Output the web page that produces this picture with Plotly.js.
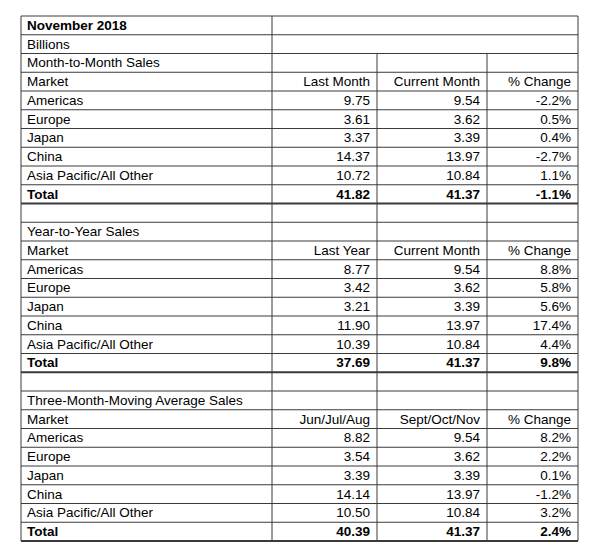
<!DOCTYPE html>
<html>
<head>
<meta charset="utf-8">
<script src="https://cdn.plot.ly/plotly-3.0.1.min.js"></script>
<style>
  html, body { margin: 0; padding: 0; background: #fff; }
  #chart { width: 600px; height: 559px; }
</style>
</head>
<body>
<div id="chart"></div>
<script>
// table data
const title = "November 2018";
const unit = "Billions";
const markets = ["Americas", "Europe", "Japan", "China", "Asia Pacific/All Other"];

const sectionNames = ["Month-to-Month Sales", "Year-to-Year Sales", "Three-Month-Moving Average Sales"];
const sectionHeaders = [
    ["Last Month", "Current Month", "% Change"],
    ["Last Year", "Current Month", "% Change"],
    ["Jun/Jul/Aug", "Sept/Oct/Nov", "% Change"]
];

const momPrev = [9.75, 3.61, 3.37, 14.37, 10.72];
const momCur = [9.54, 3.62, 3.39, 13.97, 10.84];
const momPct = [-2.2, 0.5, 0.4, -2.7, 1.1];
const momTotal = [41.82, 41.37, -1.1];

const yoyPrev = [8.77, 3.42, 3.21, 11.90, 10.39];
const yoyCur = [9.54, 3.62, 3.39, 13.97, 10.84];
const yoyPct = [8.8, 5.8, 5.6, 17.4, 4.4];
const yoyTotal = [37.69, 41.37, 9.8];

const tmaPrev = [8.82, 3.54, 3.39, 14.14, 10.50];
const tmaCur = [9.54, 3.62, 3.39, 13.97, 10.84];
const tmaPct = [8.2, 2.2, 0.1, -1.2, 3.2];
const tmaTotal = [40.39, 41.37, 2.4];

const sections = [
    [momPrev, momCur, momPct, momTotal],
    [yoyPrev, yoyCur, yoyPct, yoyTotal],
    [tmaPrev, tmaCur, tmaPct, tmaTotal]
];

// layout constants (pixels / row units)
const colEdges = [21, 272, 377, 487, 578];
const topPx = 16, rowPx = 18.75, H = 559;
const lineColor = "#3a3a3a";

// build the rows
let rows = [];
rows.push({ cells: ["<b>" + title + "</b>"], merged: true });
rows.push({ cells: [unit], merged: true });
sections.forEach((s, si) => {
    if (si > 0) rows.push({ cells: ["", "", "", ""] });
    rows.push({ cells: [sectionNames[si], "", "", ""] });
    rows.push({ cells: ["Market"].concat(sectionHeaders[si]) });
    markets.forEach((m, i) => {
        rows.push({ cells: [m, s[0][i].toFixed(2), s[1][i].toFixed(2), s[2][i].toFixed(1) + "%"] });
    });
    const t = s[3];
    rows.push({
        cells: ["<b>Total</b>", "<b>" + t[0].toFixed(2) + "</b>", "<b>" + t[1].toFixed(2) + "</b>", "<b>" + t[2].toFixed(1) + "%</b>"],
        thick: true
    });
});
const nRows = rows.length;

const font = { family: "Liberation Sans, Arial, sans-serif", size: 13.5, color: "#000" };
const yOff = 0.56;

let traces = [];
for (let c = 0; c < 4; c++) {
    let xs = [], ys = [], ts = [];
    rows.forEach((r, i) => {
        if (c < r.cells.length && r.cells[c] !== "") {
            xs.push(c === 0 ? colEdges[0] + 6 : colEdges[c + 1] - 7);
            ys.push(i + yOff);
            ts.push(r.cells[c]);
        }
    });
    traces.push({
        x: xs, y: ys, text: ts,
        mode: "text", type: "scatter",
        textposition: c === 0 ? "middle right" : "middle left",
        textfont: font,
        hoverinfo: "skip", cliponaxis: false, showlegend: false
    });
}

// grid lines
let shapes = [];
function line(x0, y0, x1, y1, w) {
    shapes.push({ type: "line", xref: "x", yref: "y", x0: x0, y0: y0, x1: x1, y1: y1,
        line: { color: lineColor, width: w } });
}
for (let i = 0; i <= nRows; i++) {
    const thick = i === nRows || (i > 0 && rows[i - 1].thick);
    line(colEdges[0], i, colEdges[4], i, thick ? 2 : 1);
}
line(colEdges[0], 0, colEdges[0], nRows, 1);
line(colEdges[4], 0, colEdges[4], nRows, 1);
line(colEdges[1], 0, colEdges[1], nRows, 1);
line(colEdges[2], 2, colEdges[2], nRows, 1);
line(colEdges[3], 2, colEdges[3], nRows, 1);

const layout = {
    width: 600, height: H,
    margin: { l: 0, r: 0, t: 0, b: 0 },
    paper_bgcolor: "#fff", plot_bgcolor: "#fff",
    xaxis: { range: [0, 600], visible: false, fixedrange: true },
    yaxis: { range: [(H - topPx) / rowPx, -topPx / rowPx], visible: false, fixedrange: true },
    shapes: shapes,
    showlegend: false
};

Plotly.newPlot("chart", traces, layout, { displayModeBar: false, staticPlot: true });
</script>
</body>
</html>
